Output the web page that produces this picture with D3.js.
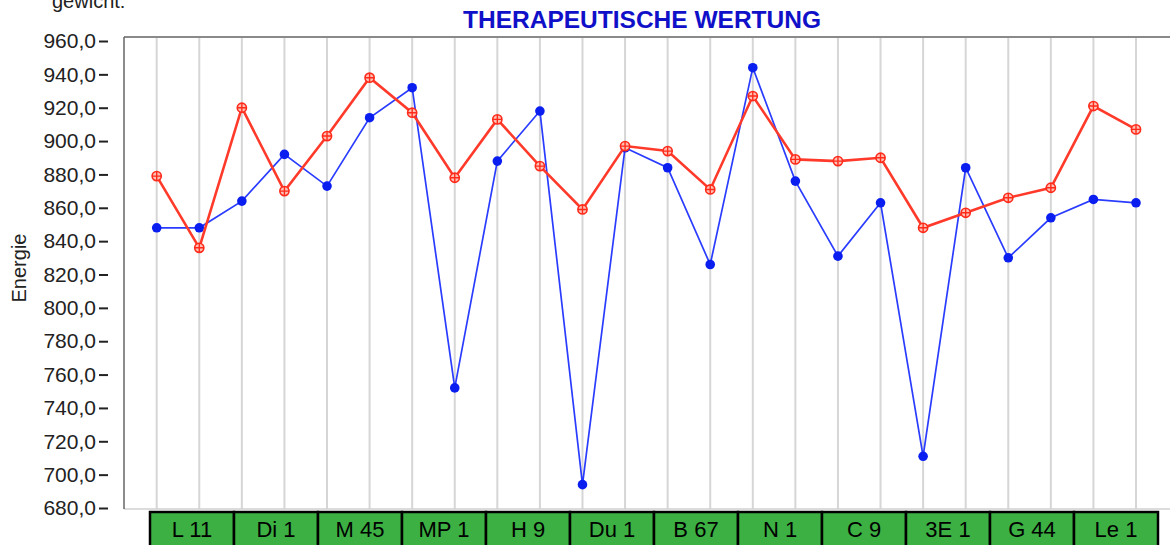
<!DOCTYPE html>
<html>
<head>
<meta charset="utf-8">
<script src="https://cdn.jsdelivr.net/npm/d3@7"></script>
<style>
  body { margin: 0; background: #fff; }
  svg { display: block; font-family: "Liberation Sans", Arial, sans-serif; }
</style>
</head>
<body>
<svg width="1170" height="545"></svg>
<script>
// categories along the bottom (each one has two measuring points)
var categories = ["L 11", "Di 1", "M 45", "MP 1", "H 9", "Du 1", "B 67", "N 1", "C 9", "3E 1", "G 44", "Le 1"];

// blue series (measured) and red series (after test), one value per point
var blueValues = [848, 848, 864, 892, 873, 914, 932, 752, 888, 918, 694, 896,
                  884, 826, 944, 876, 831, 863, 711, 884, 830, 854, 865, 863];
var redValues = [879, 836, 920, 870, 903, 938, 917, 878, 913, 885, 859, 897,
                 894, 871, 927, 889, 888, 890, 848, 857, 866, 872, 921, 907];

var yTicks = [680, 700, 720, 740, 760, 780, 800, 820, 840, 860, 880, 900, 920, 940, 960];

var svg = d3.select("svg"),
    width = +svg.attr("width"),
    height = +svg.attr("height");

var frameLeft = 124, frameTop = 37, frameBottom = 509;

var pointIdx = d3.range(blueValues.length);

var xScale = d3.scalePoint().domain(pointIdx).range([156.7, 1136]);
var yScale = d3.scaleLinear().domain([680, 960]).range([508, 41]);
var boxScale = d3.scaleBand().domain(categories).range([150, 1158]);

// small caption, cut off at the top like in the original
svg.append("text")
    .attr("x", 52)
    .attr("y", 8)
    .attr("font-size", "20px")
    .attr("fill", "#222")
    .text("gewicht:");

// title
svg.append("text")
    .attr("x", 463)
    .attr("y", 28)
    .attr("font-size", "23px")
    .attr("font-weight", "bold")
    .attr("fill", "#1010c8")
    .attr("textLength", 358)
    .attr("lengthAdjust", "spacingAndGlyphs")
    .text("THERAPEUTISCHE WERTUNG");

// vertical grid lines, one per point
svg.append("g")
    .selectAll("line")
    .data(pointIdx)
    .enter().append("line")
    .attr("x1", function(d) { return xScale(d); })
    .attr("x2", function(d) { return xScale(d); })
    .attr("y1", frameTop)
    .attr("y2", frameBottom)
    .attr("stroke", "#d6d6d6")
    .attr("stroke-width", 2);

// frame
svg.append("line")
    .attr("x1", frameLeft).attr("x2", width)
    .attr("y1", frameBottom).attr("y2", frameBottom)
    .attr("stroke", "#d0d0d0").attr("stroke-width", 1.5);
svg.append("line")
    .attr("x1", frameLeft).attr("x2", width)
    .attr("y1", frameTop).attr("y2", frameTop)
    .attr("stroke", "#8a8a8a").attr("stroke-width", 2);
svg.append("line")
    .attr("x1", frameLeft).attr("x2", frameLeft)
    .attr("y1", frameTop).attr("y2", frameBottom)
    .attr("stroke", "#666").attr("stroke-width", 1.5);

// y axis: ticks sit apart from the frame, with a comma decimal
var yAxis = svg.append("g")
    .attr("transform", "translate(108,0)")
    .call(d3.axisLeft(yScale)
        .tickValues(yTicks)
        .tickSize(9)
        .tickPadding(3)
        .tickFormat(function(d) { return d3.format(".1f")(d).replace(".", ","); }));
yAxis.select(".domain").remove();
yAxis.selectAll(".tick line").attr("stroke", "#222").attr("stroke-width", 2);
yAxis.selectAll(".tick text")
    .attr("font-size", "21px")
    .attr("font-family", "Liberation Sans, Arial, sans-serif")
    .attr("fill", "#222");

svg.append("text")
    .attr("transform", "translate(26,268) rotate(-90)")
    .attr("text-anchor", "middle")
    .attr("font-size", "20px")
    .attr("fill", "#222")
    .text("Energie");

var line = function(values) {
    return d3.line()
        .x(function(d, i) { return xScale(i); })
        .y(function(d) { return yScale(d); })(values);
};

// blue line with filled dots
svg.append("path")
    .attr("d", line(blueValues))
    .attr("fill", "none")
    .attr("stroke", "#2a3cff")
    .attr("stroke-width", 1.7);

svg.append("g")
    .selectAll("circle")
    .data(blueValues)
    .enter().append("circle")
    .attr("cx", function(d, i) { return xScale(i); })
    .attr("cy", function(d) { return yScale(d); })
    .attr("r", 4.8)
    .attr("fill", "#0a1ef0");

// red line with crossed circle markers
svg.append("path")
    .attr("d", line(redValues))
    .attr("fill", "none")
    .attr("stroke", "#ff3a2a")
    .attr("stroke-width", 2.6);

var redMarks = svg.append("g")
    .selectAll("g")
    .data(redValues)
    .enter().append("g")
    .attr("transform", function(d, i) { return "translate(" + xScale(i) + "," + yScale(d) + ")"; });
redMarks.append("circle")
    .attr("r", 4.6)
    .attr("fill", "#ffc0b4")
    .attr("stroke", "#ff2a1a")
    .attr("stroke-width", 1.6);
redMarks.append("path")
    .attr("d", "M-4.5,0H4.5M0,-4.5V4.5")
    .attr("stroke", "#ff2a1a")
    .attr("stroke-width", 1.4);

// green category boxes under the chart
var boxes = svg.append("g")
    .selectAll("g")
    .data(categories)
    .enter().append("g");
boxes.append("rect")
    .attr("x", function(d) { return boxScale(d); })
    .attr("y", 512)
    .attr("width", boxScale.bandwidth())
    .attr("height", 45)
    .attr("fill", "#3cb043")
    .attr("stroke", "#000")
    .attr("stroke-width", 2.5);
boxes.append("text")
    .attr("x", function(d) { return boxScale(d) + boxScale.bandwidth() / 2; })
    .attr("y", 536.5)
    .attr("text-anchor", "middle")
    .attr("font-size", "22px")
    .attr("fill", "#000")
    .text(function(d) { return d; });
</script>
</body>
</html>
